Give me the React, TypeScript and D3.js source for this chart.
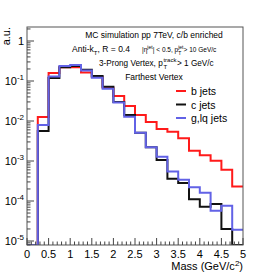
import React from "react";
import * as d3 from "d3";

// bin lower edges (width 0.25 GeV/c^2)
const binEdges = [0, 0.25, 0.5, 0.75, 1, 1.25, 1.5, 1.75, 2, 2.25, 2.5, 2.75, 3, 3.25, 3.5, 3.75, 4, 4.25, 4.5, 4.75, 5];

const bJets = [0, 0.0126, 0.158, 0.22, 0.22, 0.163, 0.126, 0.068, 0.042, 0.0237, 0.0141, 0.0094, 0.0063, 0.0054, 0.0037, 0.0018, 0.0014, 0.00102, 0.0006, 0.00023];
const cJets = [0, 0.0056, 0.119, 0.22, 0.237, 0.19, 0.133, 0.072, 0.03, 0.0141, 0.0051, 0.0022, 0.00106, 0.00036, 0.00028, 0.00011, 0.000072, 0.000084, 0.00002, 0];
const lqJets = [0, 0.0079, 0.13, 0.237, 0.25, 0.183, 0.12, 0.064, 0.029, 0.0128, 0.0051, 0.0022, 0.00128, 0.00055, 0.00034, 0.00022, 0.00016, 0.000057, 0.000076, 0.000019];

const xTickLabels = ["0", "0.5", "1", "1.5", "2", "2.5", "3", "3.5", "4", "4.5", "5"];
const yDecades = [0, -1, -2, -3, -4, -5];

const series = [
  { name: "b jets", values: bJets, color: "#ff1a1a" },
  { name: "c jets", values: cJets, color: "#111111" },
  { name: "g,lq jets", values: lqJets, color: "#6262e6" },
];

const W = 270;
const H = 273;
const left = 27;
const right = 243;
const top = 27;
const bottom = 245;
const font = "'Liberation Sans', Arial, sans-serif";

const App = () => {
  const x = d3.scaleLinear().domain([0, 5]).range([left, right]);
  const y = d3.scaleLog().domain([Math.pow(10, -5.1), Math.pow(10, 0.35)]).range([bottom, top]);

  const yv = (v: number) => (v > 0 ? Math.min(bottom, y(v)) : bottom);

  const histPath = (vals: number[]) => {
    const pts: [number, number][] = [];
    vals.forEach((v, i) => {
      pts.push([x(binEdges[i]), yv(v)]);
      pts.push([x(binEdges[i + 1]), yv(v)]);
    });
    return d3.line()(pts) || "";
  };

  // minor ticks on x axis every 0.1
  const xMinor = d3.range(0, 51).map((i) => i / 10);
  // log minor ticks
  const yMinor: number[] = [];
  for (let e = -6; e <= 0; e++) {
    for (let m = 1; m <= 9; m++) {
      const v = m * Math.pow(10, e);
      if (y(v) >= top && y(v) <= bottom) yMinor.push(v);
    }
  }

  return (
    <svg width={W} height={H} style={{ position: "absolute", left: 0, top: 0, background: "#fff" }} fontFamily={font}>
      <defs>
        <clipPath id="frame">
          <rect x={left} y={top} width={right - left} height={bottom - top} />
        </clipPath>
      </defs>

      {/* histograms */}
      <g clipPath="url(#frame)">
        {series.map((s) => (
          <path key={s.name} d={histPath(s.values)} fill="none" stroke={s.color} strokeWidth={2} />
        ))}
      </g>

      {/* frame */}
      <rect x={left} y={top} width={right - left} height={bottom - top} fill="none" stroke="#555" strokeWidth={1} />

      {/* x ticks */}
      {xMinor.map((t, i) => (
        <line key={"xm" + i} x1={x(t)} x2={x(t)} y1={bottom} y2={bottom - (i % 5 === 0 ? 7 : 3.5)} stroke="#444" />
      ))}
      {xTickLabels.map((l, i) => (
        <text key={"xl" + l} x={x(i * 0.5)} y={258} fontSize={11} textAnchor="middle" fill="#000">
          {l}
        </text>
      ))}
      <text x={right} y={270} fontSize={11} textAnchor="end" fill="#000">
        Mass (GeV/c<tspan dy={-4} fontSize={8}>2</tspan><tspan dy={4}>)</tspan>
      </text>

      {/* y ticks */}
      {yMinor.map((v, i) => {
        const major = Math.abs(Math.log10(v) - Math.round(Math.log10(v))) < 1e-6;
        return <line key={"ym" + i} x1={left} x2={left + (major ? 7 : 3.5)} y1={y(v)} y2={y(v)} stroke="#444" />;
      })}
      {yDecades.map((e) =>
        e === 0 ? (
          <text key={"yl" + e} x={24} y={y(1) + 4} fontSize={11} textAnchor="end">1</text>
        ) : (
          <text key={"yl" + e} x={24} y={y(Math.pow(10, e)) + 4} fontSize={11} textAnchor="end">
            10<tspan dy={-5} fontSize={8}>{e}</tspan>
          </text>
        )
      )}
      <text transform={`translate(10, ${top}) rotate(-90)`} fontSize={11} textAnchor="end">a.u.</text>

      {/* annotations */}
      <text x={154} y={38} fontSize={8.5} textAnchor="middle">MC simulation pp 7TeV, c/b enriched</text>

      <text x={72} y={52} fontSize={8.5}>Anti-k</text>
      <text x={93.7} y={54.5} fontSize={6}>T</text>
      <text x={97.6} y={52} fontSize={8.5}>, R = 0.4</text>

      <text x={142} y={52} fontSize={6.5}>|η</text>
      <text x={147.3} y={48.5} fontSize={5}>jet</text>
      <text x={152.8} y={52} fontSize={6.5}>| &lt; 0.5, p</text>
      <text x={178.2} y={48.5} fontSize={5}>jet</text>
      <text x={178.2} y={54.5} fontSize={5}>T</text>
      <text x={183.6} y={52} fontSize={6.5}> &gt; 10 GeV/c</text>

      <text x={99} y={66} fontSize={8.2}>3-Prong Vertex, p</text>
      <text x={163.4} y={62} fontSize={6}>track</text>
      <text x={163.4} y={69} fontSize={6}>T</text>
      <text x={177} y={66} fontSize={8.2}> &gt; 1 GeV/c</text>

      <text x={154} y={80} fontSize={8.5} textAnchor="middle">Farthest Vertex</text>

      {/* legend */}
      {series.map((s, i) => (
        <g key={"lg" + s.name} transform={`translate(0, ${91 + i * 13.5})`}>
          <line x1={176} x2={186} y1={0} y2={0} stroke={s.color} strokeWidth={2} />
          <text x={191} y={4} fontSize={10.5}>{s.name}</text>
        </g>
      ))}
    </svg>
  );
};

export default App;
